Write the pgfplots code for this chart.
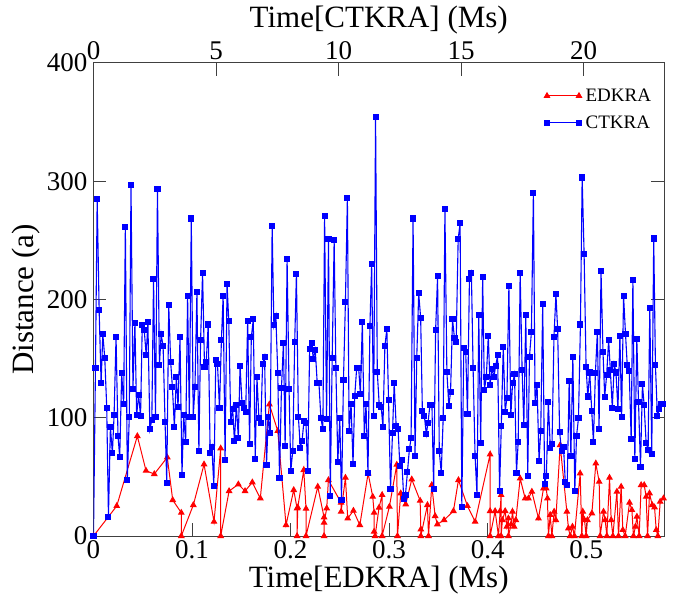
\documentclass[border=0pt]{standalone}
\usepackage{fontspec}
\setmainfont{Liberation Serif}
\usepackage{pgfplots}
\pgfplotsset{compat=1.18}

\begin{document}
\begin{tikzpicture}
\pgfplotsset{
  every axis/.append style={
    scale only axis, width=570.5pt, height=473pt,
    ymin=0, ymax=400,
    axis line style={black!75, line width=1pt},
    every tick/.style={black!75, line width=1pt},
    major tick length=13pt,
    tick align=inside,
    ticklabel style={font=\fontsize{27}{30}\selectfont},
    label style={font=\fontsize{31}{34}\selectfont},
    /pgf/number format/assume math mode=true,
  }
}
% lower axis: EDKRA time
\begin{axis}[
  xmin=0, xmax=0.579,
  xtick={0,0.1,0.2,0.3,0.4,0.5},
  xtick pos=lower,
  ytick={0,100,200,300,400},
  ytick pos=both, yticklabel pos=lower,
  yticklabel style={xshift=-2.5pt},
  xticklabel style={yshift=-1pt},
  xlabel={Time[EDKRA] (Ms)},
  ylabel={Distance (a)},
]
\addplot[red, line width=1pt, mark=triangle*, mark size=3pt] coordinates {
(0,0) (0.0236,25.4) (0.0445,84.5) (0.0533,55.2) (0.0617,52.4) (0.0749,66.5) (0.0804,30.4) (0.0891,19.7) (0.0891,0)
(0.1013,26.2) (0.1122,60.6) (0.1223,12.1) (0.1291,74.1) (0.1291,0) (0.1376,38) (0.147,43.7) (0.1538,38) (0.1612,45.4)
(0.1693,31.9) (0.1785,111.3) (0.187,88.8) (0.1954,9.3) (0.2032,38.9) (0.2066,23.4) (0.2066,0) (0.2073,24.2) (0.2134,55.8)
(0.2157,23.1) (0.2157,0) (0.2276,41.7) (0.234,15.8) (0.234,0) (0.234,11.3) (0.2367,23.4) (0.2384,47.3) (0.2513,28.2)
(0.2513,20.6) (0.2557,49.3) (0.258,14.9) (0.2638,21.4) (0.2703,9.3) (0.2787,53) (0.2834,33.2) (0.2848,19.7) (0.2848,3.7)
(0.2858,0) (0.2898,24) (0.2929,34.7) (0.2929,0) (0.3003,24.8) (0.3078,60.3) (0.3085,0) (0.3118,36.1) (0.3169,26.8)
(0.323,47.9) (0.3315,29.9) (0.3322,5.6) (0.3322,0) (0.3389,26.2) (0.34,0) (0.3433,43.1) (0.3467,16.9) (0.349,9.9)
(0.3558,13.5) (0.3653,21.1) (0.3704,47.3) (0.3795,25.4) (0.3873,12.1) (0.4025,69) (0.4025,21.1) (0.4025,0) (0.4076,21.1)
(0.411,0) (0.4127,21.1) (0.4137,34.7) (0.4137,0) (0.415,13.5) (0.4178,21.1) (0.4195,7.9) (0.4211,14.9) (0.4211,0)
(0.4239,9.9) (0.4252,20.6) (0.4269,7.9) (0.4286,13.5) (0.433,48.7) (0.4381,31.8) (0.4414,31.8) (0.4449,37.5) (0.4516,14.9)
(0.4567,40.3) (0.4594,40.3) (0.4607,31.8) (0.4617,0) (0.4635,17.8) (0.4652,0) (0.4675,20.6) (0.4692,13.5) (0.4736,76.9)
(0.4804,20.6) (0.482,6.5) (0.4838,0) (0.4861,7.9) (0.4881,0) (0.4939,53) (0.4956,0) (0.4966,20.6) (0.4983,13.5) (0.5,0)
(0.5013,13.5) (0.5058,19.2) (0.5098,61.4) (0.5132,45.9) (0.5142,0) (0.5176,20.6) (0.5193,13.5) (0.521,0) (0.5237,49.3)
(0.5254,13.5) (0.5271,0) (0.5312,37.5) (0.5328,0) (0.5355,41.7) (0.5372,5.1) (0.5396,0) (0.544,28.2) (0.5464,22) (0.548,0)
(0.55,7.9) (0.5515,16.3) (0.5538,0) (0.5558,43.1) (0.5589,43.1) (0.5609,33.2) (0.5623,0) (0.5643,36.1) (0.567,26.2)
(0.5694,24.2) (0.5711,5.1) (0.5728,0) (0.5751,29) (0.5785,31.8)
};
\end{axis}
% upper axis: CTKRA time
\begin{axis}[
  xmin=0, xmax=23.28,
  axis x line*=top, axis y line=none,
  xtick={0,5,10,15,20},
  xlabel={Time[CTKRA] (Ms)},
  legend style={at={(0.79,0.95)}, anchor=north west, draw=none, fill=none,
    font=\fontsize{19}{22}\selectfont, row sep=9pt, inner sep=0pt,
    nodes={inner xsep=4pt}},
  legend cell align=left,
  legend image code/.code={\draw[mark repeat=1, mark phase=1, #1] plot coordinates {(0pt,0pt) (32pt,0pt)};},
]
\addlegendimage{red, line width=1pt, mark=triangle*, mark size=3pt}
\addlegendentry{EDKRA}
\addplot[blue, line width=1.1pt, mark=square*, mark size=2.5pt] coordinates {
(0,0) (0.08,141.7) (0.15,285) (0.23,191) (0.31,129.6) (0.38,170.7) (0.46,150.5) (0.54,108.5) (0.61,16.3) (0.69,92.4)
(0.77,69.9) (0.84,102) (0.92,168.5) (1.00,84.5) (1.07,66.5) (1.15,137.5) (1.23,111.3) (1.30,261.5) (1.38,47.3) (1.46,100.9)
(1.53,297) (1.61,124.5) (1.69,180) (1.76,102.3) (1.84,119.2) (1.92,101.4) (1.99,178.6) (2.07,174.1) (2.15,153) (2.22,180.6)
(2.30,90.2) (2.38,98) (2.45,217.2) (2.53,100.9) (2.61,293.3) (2.69,144.5) (2.76,170.7) (2.84,160.6) (2.92,96.6) (2.99,44.5)
(3.07,195) (3.15,146.8) (3.22,125.7) (3.30,92.4) (3.38,134.7) (3.45,109) (3.53,168) (3.61,51.3) (3.68,102.3) (3.76,79.7)
(3.84,202.9) (3.91,100.9) (3.99,268.5) (4.07,100.9) (4.14,125.7) (4.22,206) (4.30,72.1) (4.37,165.7) (4.45,222.6) (4.53,143.1)
(4.60,146.8) (4.68,178.9) (4.76,70.4) (4.83,75.5) (4.91,42.5) (4.99,148.5) (5.06,145.4) (5.14,107.9) (5.22,165.7) (5.29,202.9)
(5.37,64.2) (5.45,213) (5.52,181.5) (5.60,96.6) (5.68,107.1) (5.75,80.3) (5.83,110.7) (5.91,82.6) (5.98,144) (6.06,112.7)
(6.14,107.9) (6.21,104.5) (6.29,181.7) (6.37,77.5) (6.44,168) (6.52,183.2) (6.60,65.1) (6.67,134.2) (6.75,99.5) (6.83,95.8)
(6.90,145.4) (6.98,151.6) (7.06,60) (7.13,100.9) (7.21,86.8) (7.29,262) (7.36,178.1) (7.44,186) (7.52,137.5) (7.59,48.8)
(7.67,125.1) (7.75,163.4) (7.82,76.3) (7.90,234.1) (7.98,124.5) (8.05,54.9) (8.13,71.8) (8.21,163.7) (8.28,221.7) (8.36,100.9)
(8.44,74.7) (8.51,80.6) (8.59,97.5) (8.67,95.3) (8.74,54.9) (8.82,158.4) (8.90,162.9) (8.97,149.9) (9.05,157.2) (9.13,129.1)
(9.20,129.1) (9.28,99.5) (9.36,90.2) (9.43,270.5) (9.51,99.2) (9.59,250.8) (9.66,33.8) (9.74,150.7) (9.82,250) (9.89,142)
(9.97,62.8) (10.05,99.5) (10.12,30.4) (10.20,131.9) (10.28,198) (10.36,286) (10.43,88.8) (10.51,111.6) (10.59,60.9) (10.66,118.3)
(10.74,142.3) (10.82,142.3) (10.89,120) (10.97,180.9) (11.05,84.5) (11.12,111.6) (11.20,53) (11.28,177.8) (11.35,229.7) (11.43,101.4)
(11.51,354.5) (11.58,138.6) (11.66,110.7) (11.74,109.3) (11.81,92.4) (11.89,160.6) (11.97,175) (12.04,115) (12.12,39.4) (12.20,86.8)
(12.27,129.6) (12.35,93.2) (12.43,90.2) (12.50,59.4) (12.58,64.2) (12.66,31.5) (12.73,34.9) (12.81,53.8) (12.89,73.3) (12.96,82.8)
(13.04,268.5) (13.12,67.9) (13.19,150.2) (13.27,205.2) (13.35,184.5) (13.42,105.7) (13.50,101.7) (13.58,86.2) (13.65,95.8) (13.73,111)
(13.81,110.9) (13.88,39.7) (13.96,174.1) (14.04,219.5) (14.11,71.8) (14.19,53.5) (14.27,100) (14.34,276.2) (14.42,138.6) (14.50,109.9)
(14.57,122) (14.65,183.4) (14.73,167.1) (14.80,164.2) (14.88,250.8) (14.96,264.8) (15.03,24.8) (15.11,159.2) (15.19,155.3) (15.26,102.9)
(15.34,217) (15.42,222.6) (15.49,141.8) (15.57,67.9) (15.65,34.4) (15.72,186.6) (15.80,78.9) (15.88,218.9) (15.95,123.4) (16.03,134.7)
(16.11,169.3) (16.18,127.6) (16.26,141.4) (16.34,134.7) (16.41,143.7) (16.49,152.7) (16.57,38.3) (16.64,93) (16.72,159.8) (16.80,105.1)
(16.87,116.9) (16.95,211.3) (17.03,102) (17.10,129.1) (17.18,136.7) (17.26,53.5) (17.33,79.5) (17.41,222.6) (17.49,140.3) (17.56,93.8)
(17.64,186.8) (17.72,51) (17.79,151.6) (17.87,172.7) (17.95,290.2) (18.02,112.2) (18.10,127.6) (18.18,63.7) (18.25,88.8) (18.33,196.1)
(18.41,44) (18.48,50.7) (18.56,113.6) (18.64,74.4) (18.71,77.8) (18.79,168.5) (18.87,204.3) (18.94,174.7) (19.02,87.9) (19.10,72.1)
(19.18,75.5) (19.25,45.9) (19.33,43.1) (19.41,131) (19.48,67.6) (19.56,151.6) (19.64,38.3) (19.71,84.5) (19.79,99.5) (19.87,178.9)
(19.94,303.2) (20.02,238.1) (20.10,143.1) (20.17,118) (20.25,138.3) (20.33,105.9) (20.40,79.7) (20.48,137.5) (20.56,172.4) (20.63,90.4)
(20.71,224) (20.79,155.8) (20.86,117.8) (20.94,136.4) (21.02,165.7) (21.09,140.3) (21.17,108.5) (21.25,145.1) (21.32,138.3) (21.40,107.1)
(21.48,169.3) (21.55,100.9) (21.63,202.9) (21.71,170.5) (21.78,144.3) (21.86,139.8) (21.94,81.7) (22.01,216.4) (22.09,64.8) (22.17,166.8)
(22.24,113) (22.32,58.6) (22.40,128.2) (22.47,110.5) (22.55,78.9) (22.63,72.7) (22.70,193) (22.78,69) (22.86,251.6) (22.93,144.3)
(23.01,101.4) (23.09,107.6) (23.16,111.3) (23.24,111.8)
};
\addlegendentry{CTKRA}
\end{axis}
\pgfresetboundingbox
\path (-93.5pt,-61pt) rectangle (585.5pt,536pt);
\end{tikzpicture}
\end{document}
